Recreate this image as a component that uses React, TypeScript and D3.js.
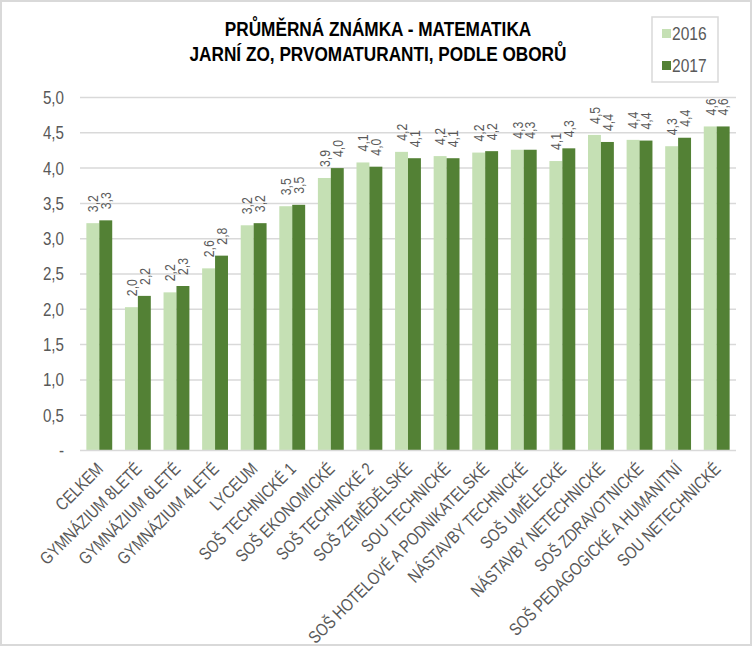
import React from "react";
import * as d3 from "d3";

const categories = [
  "CELKEM",
  "GYMNÁZIUM 8LETÉ",
  "GYMNÁZIUM 6LETÉ",
  "GYMNÁZIUM 4LETÉ",
  "LYCEUM",
  "SOŠ TECHNICKÉ 1",
  "SOŠ EKONOMICKÉ",
  "SOŠ TECHNICKÉ 2",
  "SOŠ ZEMĚDĚLSKÉ",
  "SOU TECHNICKÉ",
  "SOŠ HOTELOVÉ A PODNIKATELSKÉ",
  "NÁSTAVBY TECHNICKÉ",
  "SOŠ UMĚLECKÉ",
  "NÁSTAVBY NETECHNICKÉ",
  "SOŠ ZDRAVOTNICKÉ",
  "SOŠ PEDAGOGICKÉ A HUMANITNÍ",
  "SOU NETECHNICKÉ",
];
const values2016 = [3.22, 2.03, 2.24, 2.58, 3.19, 3.46, 3.86, 4.08, 4.23, 4.17, 4.22, 4.26, 4.1, 4.47, 4.4, 4.31, 4.59];
const values2017 = [3.26, 2.19, 2.33, 2.76, 3.22, 3.48, 4.0, 4.02, 4.14, 4.14, 4.24, 4.26, 4.28, 4.37, 4.39, 4.43, 4.59];
const seriesNames = ["2016", "2017"];
const yTicks = [0, 0.5, 1, 1.5, 2, 2.5, 3, 3.5, 4, 4.5, 5];
const titleLines = ["PRŮMĚRNÁ ZNÁMKA - MATEMATIKA", "JARNÍ ZO, PRVOMATURANTI, PODLE OBORŮ"];

const W = 752;
const H = 646;
const colors = ["#c5e0b4", "#538135"];
const FONT = "'Liberation Sans', Arial, sans-serif";
const TXT = "#595959";
const SX = 0.82; // narrow emulation

export default function App() {
  const x0 = d3.scaleBand<string>().domain(categories).range([80, 736]).paddingInner(0.33).paddingOuter(0.165);
  const x1 = d3.scaleBand<string>().domain(seriesNames).range([0, x0.bandwidth()]);
  const y = d3.scaleLinear().domain([0, 5]).range([450.5, 97.5]);
  const fmt = (v: number) => v.toFixed(1).replace(".", ",");
  const series = [values2016, values2017];

  return (
    <svg width={W} height={H} style={{ position: "absolute", left: 0, top: 0, background: "#fff" }} fontFamily={FONT}>
      <rect x={1} y={1} width={W - 2} height={H - 2} fill="#fff" stroke="#d9d9d9" strokeWidth={2} />
      {yTicks.map((t) => (
        <g key={t}>
          {t > 0 && <line x1={80} x2={736} y1={y(t)} y2={y(t)} stroke="#d9d9d9" strokeWidth={1.5} />}
          <text
            transform={`translate(64,${y(t)}) scale(${SX},1)`}
            dy="0.35em"
            textAnchor="end"
            fontSize={18.5}
            fill={TXT}
          >
            {t === 0 ? "-" : t.toFixed(1).replace(".", ",")}
          </text>
        </g>
      ))}
      {categories.map((c, i) => (
        <g key={c}>
          {series.map((vals, s) => {
            const bx = (x0(c) as number) + (x1(seriesNames[s]) as number);
            const bw = x1.bandwidth();
            return (
              <g key={s}>
                <rect x={bx} y={y(vals[i])} width={bw} height={y(0) - y(vals[i])} fill={colors[s]} />
                <text
                  transform={`translate(${bx + bw / 2},${y(vals[i]) - 11}) rotate(-90) scale(${SX},1)`}
                  dy="0.35em"
                  textAnchor="start"
                  fontSize={15}
                  fill={TXT}
                >
                  {fmt(vals[i])}
                </text>
              </g>
            );
          })}
          <text
            transform={`translate(${(x0(c) as number) + x0.bandwidth() / 2 + 5},${470}) rotate(-45) scale(${SX},1)`}
            textAnchor="end"
            fontSize={17.5}
            fill={TXT}
          >
            {c}
          </text>
        </g>
      ))}
      <line x1={80} x2={736} y1={y(0)} y2={y(0)} stroke="#d9d9d9" strokeWidth={1.5} />
      {titleLines.map((t, i) => (
        <text
          key={i}
          transform={`translate(378,${36 + i * 24.5}) scale(${SX},1)`}
          textAnchor="middle"
          fontSize={21}
          fontWeight="bold"
          fill="#000"
        >
          {t}
        </text>
      ))}
      <rect x={652} y={17} width={66} height={65} fill="#fff" stroke="#d9d9d9" strokeWidth={1.5} />
      {seriesNames.map((s, i) => (
        <g key={s}>
          <rect x={662} y={29 + i * 32} width={9} height={9} fill={colors[i]} />
          <text transform={`translate(672,${33.5 + i * 32}) scale(${SX},1)`} dy="0.35em" fontSize={19} fill={TXT}>
            {s}
          </text>
        </g>
      ))}
    </svg>
  );
}
